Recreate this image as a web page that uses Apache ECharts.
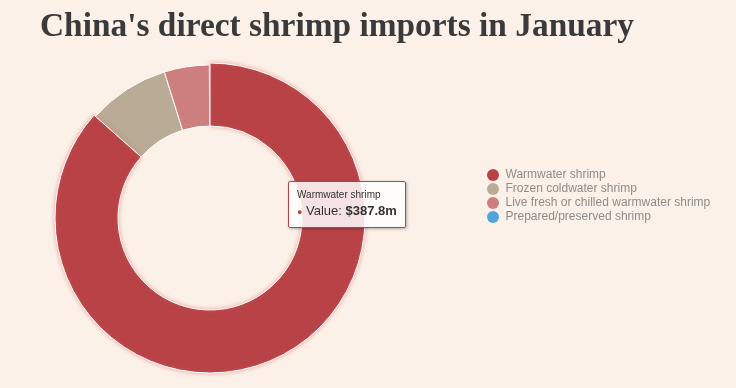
<!DOCTYPE html>
<html>
<head>
<meta charset="utf-8">
<script src="https://cdn.jsdelivr.net/npm/echarts@6/dist/echarts.min.js"></script>
<style>
html,body{margin:0;padding:0;background:#fcf1e8;}
#chart{width:736px;height:388px;}
</style>
</head>
<body>
<div id="chart"></div>
<script>
const categories = ["Warmwater shrimp", "Frozen coldwater shrimp", "Live fresh or chilled warmwater shrimp", "Prepared/preserved shrimp"];
const values = [387.8, 38.7, 21.3, 0.3];
const colors = ["#b84245", "#b9ab95", "#cd7f7e", "#4ea6dc"];

const chart = echarts.init(document.getElementById('chart'));
chart.setOption({
  backgroundColor: '#fcf1e8',
  animation: false,
  title: {
    text: "China's direct shrimp imports in January",
    left: 35, top: 6,
    textStyle: {fontFamily: 'Liberation Serif', fontWeight: 'bold', fontSize: 33.4, color: '#3a3a3a'}
  },
  color: colors,
  tooltip: {
    trigger: 'item',
    alwaysShowContent: true,
    position: function(){ return [288, 181]; },
    backgroundColor: 'rgba(255,255,255,0.85)',
    borderColor: '#b84245',
    borderWidth: 1,
    padding: [6, 8],
    extraCssText: 'border-radius:2px;box-shadow:1px 1px 3px rgba(0,0,0,0.3);',
    formatter: function(p){
      return '<div style="font-family:Liberation Sans;font-size:10px;color:#333;line-height:14px">' + p.name + '</div>' +
        '<div style="font-family:Liberation Sans;font-size:13px;color:#333;line-height:17px"><span style="color:' + p.color + ';font-size:9px">\u25CF</span> Value: <b>$' + p.value + 'm</b></div>';
    }
  },
  legend: {
    orient: 'vertical',
    left: 482, top: 164,
    icon: 'circle',
    itemWidth: 15, itemHeight: 12,
    itemGap: 2,
    itemStyle: {borderWidth: 0},
    textStyle: {fontFamily: 'Liberation Sans', fontSize: 12, color: '#8c8c8c', lineHeight: 12},
    data: categories
  },
  series: [{
    type: 'pie',
    center: [210, 218],
    radius: [92, 153],
    startAngle: 90,
    label: {show: false},
    labelLine: {show: false},
    itemStyle: {borderColor: '#ffffff', borderWidth: 1},
    emphasis: {
      scale: true, scaleSize: 2,
      itemStyle: {borderColor: '#ffffff', shadowBlur: 4, shadowColor: 'rgba(220,120,120,0.6)'}
    },
    data: categories.map((c, i) => ({name: c, value: values[i], emphasis: {itemStyle: {color: colors[i]}}}))
  }]
});
chart.dispatchAction({type: 'highlight', seriesIndex: 0, dataIndex: 0});
chart.dispatchAction({type: 'showTip', seriesIndex: 0, dataIndex: 0});
</script>
</body>
</html>
